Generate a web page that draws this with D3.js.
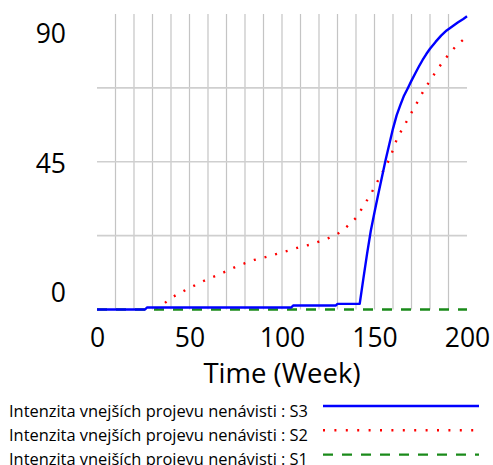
<!DOCTYPE html>
<html>
<head>
<meta charset="utf-8">
<script src="https://cdn.jsdelivr.net/npm/d3@7"></script>
<style>
  body { margin: 0; background: #fff; }
  text { font-family: "Open Sans", sans-serif; fill: #000; }
</style>
</head>
<body>
<svg id="chart"></svg>
<script>
var width = 493;
var height = 465;

var xTicks = [0, 50, 100, 150, 200];
var yTicks = [0, 45, 90];
var yGrid = [22.5, 45, 67.5];
var xGrid = d3.range(10, 200, 10);

var s3Weeks = [0, 26, 27, 105, 106, 129, 130, 142, 144, 146, 148, 150, 152, 154, 156, 158, 160,
               162, 164, 166, 168, 170, 172, 174, 176, 178, 180, 183, 186, 189, 192, 195, 198, 200];
var s3Values = [0, 0, 0.6, 0.6, 1.2, 1.2, 1.7, 1.7, 9.5, 17, 24, 29.6, 35, 40.3, 45.5, 50.3, 55.1,
                59.2, 62.3, 65.2, 67.4, 69.7, 71.9, 74, 76, 77.8, 79.4, 81.5, 83.4, 85, 86.2, 87.4, 88.5, 89.3];

var s2Weeks = [32, 36, 40, 45, 50, 55, 60, 65, 70, 75, 80, 85, 90, 95, 100, 105, 110, 115, 120, 125,
               130, 135, 138, 140, 143, 146, 149, 152, 155, 158, 160, 162, 165, 168, 171, 174, 177,
               180, 183, 187, 191, 195, 200];
var s2Values = [0, 1.7, 3.5, 5.1, 6.5, 8, 9.3, 10.4, 11.7, 13, 14.1, 15.1, 15.8, 16.6, 17.4, 18.2, 19.1,
                19.7, 20.7, 21.7, 23, 25.2, 26.8, 27.9, 30.6, 33.3, 36.2, 39.4, 42.5, 45.7, 48.6, 51.8,
                55, 57.9, 61, 64, 67.1, 69.7, 72.3, 75.5, 78.3, 80.8, 83.1];

var s1Weeks = [0, 200];
var s1Values = [0, 0];

var seriesNames = ["Intenzita vnejších projevu nenávisti : S3",
                   "Intenzita vnejších projevu nenávisti : S2",
                   "Intenzita vnejších projevu nenávisti : S1"];

var svg = d3.select("#chart").attr("width", width).attr("height", height);

var x = d3.scaleLinear().domain([0, 200]).range([97, 467]);
var y = d3.scaleLinear().domain([0, 90]).range([309.5, 14]);

// grid
svg.append("g").selectAll("line")
    .data(xGrid)
  .enter().append("line")
    .attr("x1", function(d){ return x(d); })
    .attr("x2", function(d){ return x(d); })
    .attr("y1", y(90))
    .attr("y2", y(0))
    .attr("stroke", "#c4c4c4")
    .attr("stroke-width", 1.2);

svg.append("g").selectAll("line")
    .data(yGrid)
  .enter().append("line")
    .attr("x1", x(0))
    .attr("x2", x(200))
    .attr("y1", function(d){ return y(d); })
    .attr("y2", function(d){ return y(d); })
    .attr("stroke", "#cfcfcf")
    .attr("stroke-width", 1.6);

// y labels: vensim style, top pushed down, bottom pushed up
var yLabelBase = { 90: 43, 45: 173, 0: 302 };
svg.append("g").selectAll("text")
    .data(yTicks)
  .enter().append("text")
    .attr("x", 66)
    .attr("y", function(d){ return yLabelBase[d]; })
    .attr("text-anchor", "end")
    .attr("font-size", 26.5)
    .text(function(d){ return d; });

var xAxis = d3.axisBottom(x).tickValues(xTicks).tickSize(0).tickPadding(0);
var gx = svg.append("g").attr("transform", "translate(0,328)").call(xAxis);
gx.select(".domain").remove();
gx.selectAll("text")
    .attr("font-size", 26.5)
    .attr("dy", "0.72em")
    .style("font-family", "'Open Sans', sans-serif")
    .attr("fill", "#000");

svg.append("text")
    .attr("x", x(100))
    .attr("y", 383)
    .attr("text-anchor", "middle")
    .attr("font-size", 27.5)
    .text("Time (Week)");

function pairs(ws, vs) {
  return ws.map(function(w, i){ return [w, vs[i]]; });
}

var line = d3.line()
    .x(function(d){ return x(d[0]); })
    .y(function(d){ return y(d[1]); });

var styles = [
  { color: "#0000ff", dash: null, cap: "butt" },
  { color: "#ff0000", dash: "2,9", cap: "butt" },
  { color: "#1a8a1a", dash: "10,9", cap: "butt" }
];
var series = [pairs(s3Weeks, s3Values), pairs(s2Weeks, s2Values), pairs(s1Weeks, s1Values)];

// draw S2, S1 then S3 on top
[1, 2, 0].forEach(function(i){
  svg.append("path")
      .datum(series[i])
      .attr("d", line)
      .attr("fill", "none")
      .attr("stroke", styles[i].color)
      .attr("stroke-width", 2.4)
      .attr("stroke-dasharray", styles[i].dash)
      .attr("stroke-linejoin", "round");
});

// legend
var legend = svg.append("g").selectAll("g")
    .data(seriesNames)
  .enter().append("g")
    .attr("transform", function(d, i){ return "translate(0," + (416.5 + i * 24.3) + ")"; });

legend.append("text")
    .attr("x", 9)
    .attr("y", 0)
    .attr("font-size", 16.5)
    .attr("textLength", 299)
    .attr("lengthAdjust", "spacingAndGlyphs")
    .text(function(d){ return d; });

legend.append("line")
    .attr("x1", 323)
    .attr("x2", 479)
    .attr("y1", -10.5)
    .attr("y2", -10.5)
    .attr("stroke", function(d, i){ return styles[i].color; })
    .attr("stroke-width", 2.4)
    .attr("stroke-dasharray", function(d, i){ return i == 1 ? "2,9.4" : styles[i].dash; });
</script>
</body>
</html>
